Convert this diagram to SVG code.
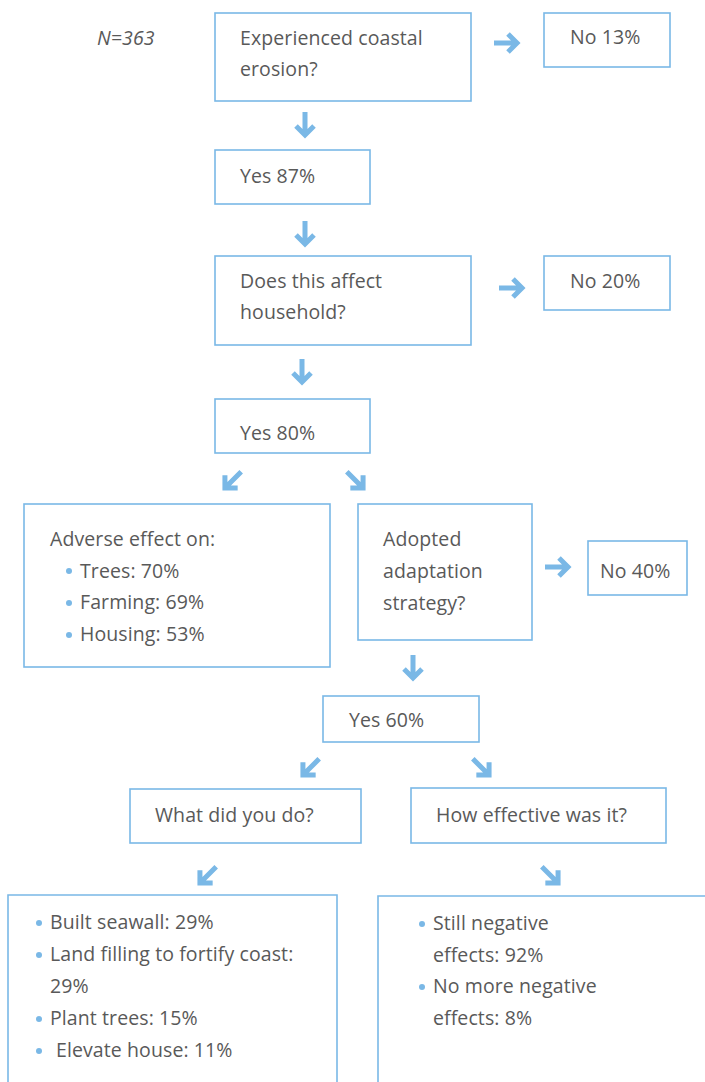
<svg xmlns="http://www.w3.org/2000/svg" xmlns:xlink="http://www.w3.org/1999/xlink" width="705" height="1082" viewBox="0 0 705 1082">
<style>
.box{fill:#fff;stroke:#7ab8e6;stroke-width:1.6}
.t{font-family:"Open Sans","Noto Sans",sans-serif;font-size:19.5px;fill:#595959;letter-spacing:0.1px}
.i{font-style:italic}
.b{fill:#7ab8e6}
.arr{fill:none;stroke:#7ab8e6;stroke-width:5;stroke-linejoin:miter}
</style>
<defs>
<g id="ar" class="arr"><path d="M-13,0 H10 M1,-9 L10,0 L1,9"/></g>
</defs>
<rect width="705" height="1082" fill="#fff"/>
<text class="t i" x="97" y="45">N=363</text>
<g id="n1"><rect class="box" x="215" y="13" width="256" height="88"/><text class="t" x="240" y="45">Experienced coastal</text><text class="t" x="240" y="76">erosion?</text></g>
<g id="n2"><rect class="box" x="544" y="13" width="126" height="54"/><text class="t" x="570" y="44">No 13%</text></g>
<g id="n3"><rect class="box" x="215" y="150" width="155" height="54"/><text class="t" x="240" y="183">Yes 87%</text></g>
<g id="n4"><rect class="box" x="215" y="256" width="256" height="89"/><text class="t" x="240" y="288">Does this affect</text><text class="t" x="240" y="319">household?</text></g>
<g id="n5"><rect class="box" x="544" y="256" width="126" height="54"/><text class="t" x="570" y="288">No 20%</text></g>
<g id="n6"><rect class="box" x="215" y="399" width="155" height="54"/><text class="t" x="240" y="440">Yes 80%</text></g>
<g id="n7"><rect class="box" x="24" y="504" width="306" height="163"/><text class="t" x="50" y="546">Adverse effect on:</text>
<circle class="b" cx="69" cy="571" r="3"/><text class="t" x="80" y="578">Trees: 70%</text>
<circle class="b" cx="69" cy="603" r="3"/><text class="t" x="80" y="609">Farming: 69%</text>
<circle class="b" cx="69" cy="635" r="3"/><text class="t" x="80" y="641">Housing: 53%</text></g>
<g id="n8"><rect class="box" x="358" y="504" width="174" height="136"/><text class="t" x="383" y="546">Adopted</text><text class="t" x="383" y="578">adaptation</text><text class="t" x="383" y="610">strategy?</text></g>
<g id="n9"><rect class="box" x="588" y="541" width="99" height="54"/><text class="t" x="600" y="578">No 40%</text></g>
<g id="n10"><rect class="box" x="323" y="696" width="156" height="46"/><text class="t" x="349" y="727">Yes 60%</text></g>
<g id="n11"><rect class="box" x="130" y="789" width="231" height="54"/><text class="t" x="155" y="822">What did you do?</text></g>
<g id="n12"><rect class="box" x="411" y="788" width="255" height="55"/><text class="t" x="436" y="822">How effective was it?</text></g>
<g id="n13"><path class="box" d="M8,1090 V895 H337 V1090"/>
<circle class="b" cx="39" cy="923" r="3"/><text class="t" x="50" y="929">Built seawall: 29%</text>
<circle class="b" cx="39" cy="955" r="3"/><text class="t" x="50" y="961">Land filling to fortify coast:</text>
<text class="t" x="50" y="993">29%</text>
<circle class="b" cx="39" cy="1019" r="3"/><text class="t" x="50" y="1025">Plant trees: 15%</text>
<circle class="b" cx="39" cy="1051" r="3"/><text class="t" x="56" y="1057">Elevate house: 11%</text></g>
<g id="n14"><path class="box" d="M378,1090 V896 H710"/>
<circle class="b" cx="422" cy="924" r="3"/><text class="t" x="433" y="930">Still negative</text>
<text class="t" x="433" y="962">effects: 92%</text>
<circle class="b" cx="422" cy="987" r="3"/><text class="t" x="433" y="993">No more negative</text>
<text class="t" x="433" y="1025">effects: 8%</text></g>
<g id="connectors">
<use xlink:href="#ar" transform="translate(507,43)"/>
<use xlink:href="#ar" transform="translate(512,288)"/>
<use xlink:href="#ar" transform="translate(558,567)"/>
<use xlink:href="#ar" transform="translate(305,125) rotate(90)"/>
<use xlink:href="#ar" transform="translate(305,234) rotate(90)"/>
<use xlink:href="#ar" transform="translate(302,372) rotate(90)"/>
<use xlink:href="#ar" transform="translate(413,668) rotate(90)"/>
<use xlink:href="#ar" transform="translate(232,481) rotate(135)"/>
<use xlink:href="#ar" transform="translate(356,481) rotate(45)"/>
<use xlink:href="#ar" transform="translate(310,768) rotate(135)"/>
<use xlink:href="#ar" transform="translate(482,768) rotate(45)"/>
<use xlink:href="#ar" transform="translate(207,876) rotate(135)"/>
<use xlink:href="#ar" transform="translate(551,876) rotate(45)"/>
</g>
</svg>
